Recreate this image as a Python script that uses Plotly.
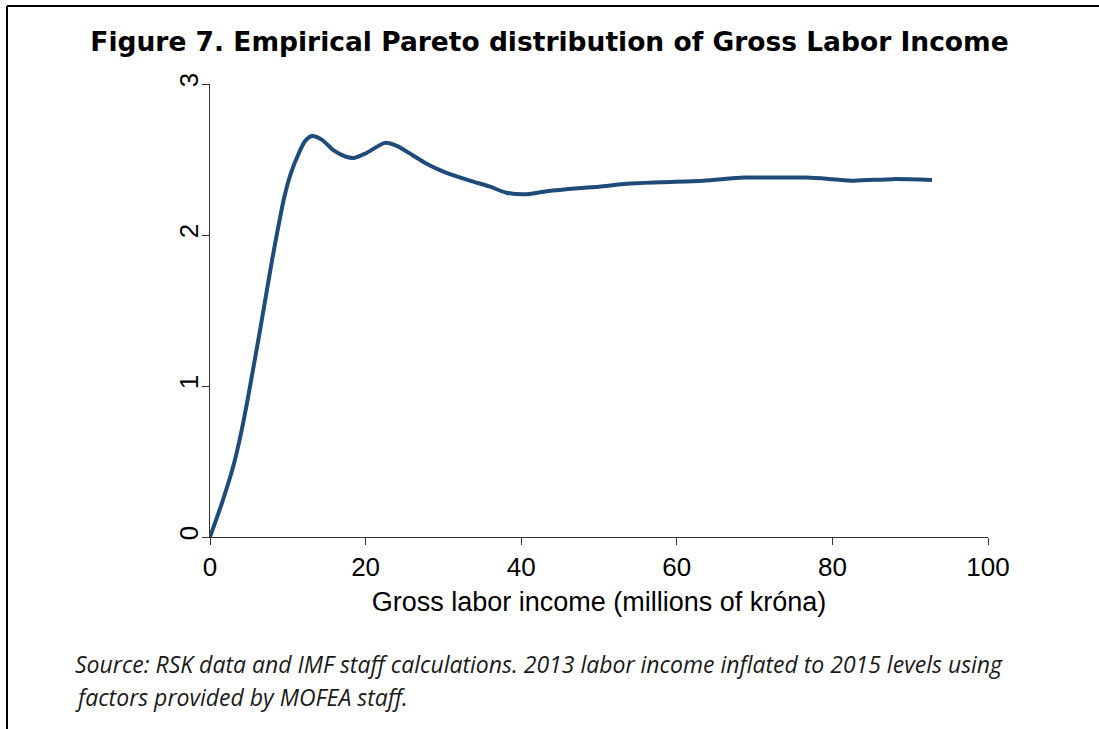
import plotly.graph_objects as go

income_millions = [0, 1.5, 3.0, 4.0, 4.8, 5.57, 6.4, 7.2, 8.0, 8.8, 9.5, 10.4, 11.4, 12.2,
                   13.1, 14.4, 15.9, 17.4, 18.5, 20.0, 22.5, 24.0, 26.0, 27.9, 30.0,
                   33.4, 36.0, 38.1, 40.7, 43.3, 47.3, 50.0, 53.6, 58.0, 63.4, 68.6,
                   72.0, 76.7, 80.0, 82.7, 87.8, 92.8]
pareto_alpha = [0, 0.22, 0.47, 0.69, 0.9, 1.12, 1.36, 1.6, 1.84, 2.06, 2.24, 2.41,
                2.54, 2.62, 2.655, 2.63, 2.56, 2.52, 2.51, 2.54, 2.61, 2.59, 2.53, 2.47,
                2.42, 2.36, 2.32, 2.28, 2.27, 2.29, 2.31, 2.32, 2.34, 2.35, 2.36, 2.38,
                2.38, 2.38, 2.37, 2.36, 2.37, 2.365]

x_ticks = [0, 20, 40, 60, 80, 100]
y_ticks = [0, 1, 2, 3]

title_text = "<b>Figure 7. Empirical Pareto distribution of Gross Labor Income</b>"
x_title = "Gross labor income (millions of króna)"
source_line1 = "<i>Source: RSK data and IMF staff calculations. 2013 labor income inflated to 2015 levels using</i>"
source_line2 = "<i>factors provided by MOFEA staff.</i>"

W, H = 1099, 729
L, R, T, B = 210, 111, 84, 192
pw, ph = W - L - R, H - T - B


def px(xpix):
    return (xpix - L) / pw


def py(ypix):
    return (H - B - ypix) / ph


fig = go.Figure()
fig.add_trace(go.Scatter(
    x=income_millions, y=pareto_alpha, mode="lines",
    line=dict(color="#1f4b78", width=4, shape="spline", smoothing=0.7),
    showlegend=False, hoverinfo="skip"))

axis_common = dict(showgrid=False, zeroline=False, showline=True, linecolor="#333333",
                   linewidth=1, ticks="outside", ticklen=7, tickcolor="#333333",
                   tickfont=dict(family="Liberation Sans, Arial", size=26, color="#000000"))

fig.update_xaxes(range=[0, 100], tickvals=x_ticks, ticktext=[str(v) for v in x_ticks],
                 title=dict(text=x_title, font=dict(family="Liberation Sans, Arial", size=27, color="#000000"),
                            standoff=10),
                 **axis_common)
fig.update_yaxes(range=[0, 3], tickvals=y_ticks, ticktext=[str(v) for v in y_ticks],
                 tickangle=-90, ticklabelstandoff=-6, **axis_common)

src_font = dict(family="Open Sans, Noto Sans", size=23, color="#1a1a1a")

fig.update_layout(
    width=W, height=H,
    margin=dict(l=L, r=R, t=T, b=B),
    paper_bgcolor="white", plot_bgcolor="white",
    title=dict(text=title_text, x=0.5, xanchor="center", xref="container",
               y=1 - 42 / H, yanchor="middle", yref="container",
               font=dict(family="DejaVu Sans", size=26.5, color="#000000")),
    annotations=[
        dict(text=source_line1, xref="paper", yref="paper", x=px(73), y=py(664),
             xanchor="left", yanchor="middle", align="left", showarrow=False, font=src_font),
        dict(text=source_line2, xref="paper", yref="paper", x=px(73), y=py(697),
             xanchor="left", yanchor="middle", align="left", showarrow=False, font=src_font),
    ],
    shapes=[
        dict(type="line", xref="paper", yref="paper", x0=px(7), x1=px(W + 5), y0=py(6), y1=py(6),
             line=dict(color="#000000", width=2)),
        dict(type="line", xref="paper", yref="paper", x0=px(7), x1=px(7), y0=py(6), y1=py(H + 5),
             line=dict(color="#000000", width=2)),
    ],
)

fig.write_html("out.html", config={"displayModeBar": False},
               post_script="document.body.style.margin='0';")
